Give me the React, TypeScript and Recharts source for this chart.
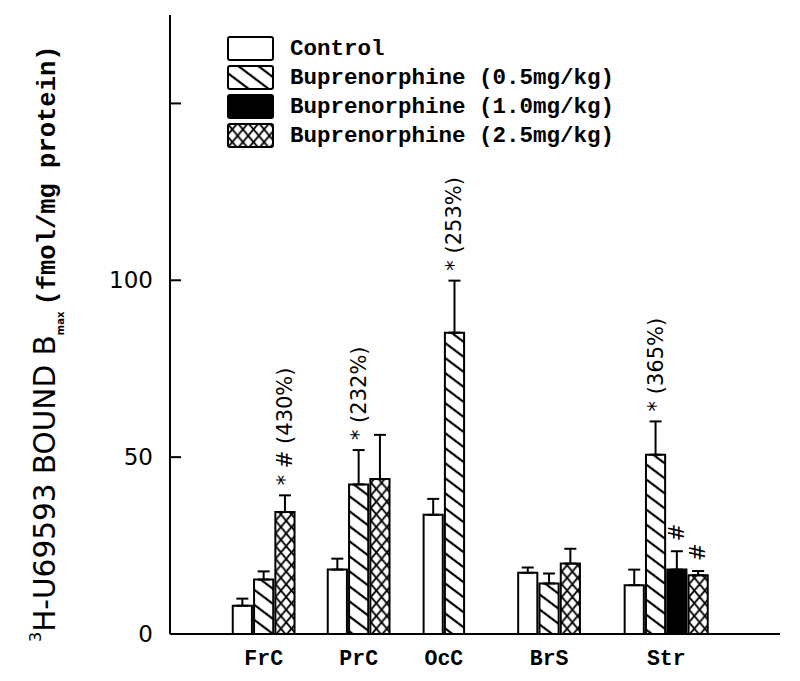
import React from "react";
import { BarChart, Bar, XAxis, YAxis, Cell, ErrorBar, LabelList, Legend } from "recharts";

const categories = ["FrC", "PrC", "OcC", "BrS", "Str"];
const seriesNames = [
  "Control",
  "Buprenorphine (0.5mg/kg)",
  "Buprenorphine (1.0mg/kg)",
  "Buprenorphine (2.5mg/kg)",
];
const control = [8.0, 18.2, 33.7, 17.3, 13.8];
const bup05 = [15.4, 42.3, 85.2, 14.3, 50.7];
const bup10 = [null, null, null, null, 18.2];
const bup25 = [34.5, 43.8, null, 19.9, 16.6];
const controlErr = [2.0, 3.1, 4.5, 1.5, 4.4];
const bup05Err = [2.3, 9.7, 14.7, 2.8, 9.4];
const bup10Err = [null, null, null, null, 5.2];
const bup25Err = [4.7, 12.5, null, 4.2, 1.2];
const controlNotes = [null, null, null, null, null];
const bup05Notes = [null, "* (232%)", "* (253%)", null, "* (365%)"];
const bup10Notes = [null, null, null, null, "#"];
const bup25Notes = ["* # (430%)", null, null, null, "#"];
const yTicks = [0, 50, 100, 150];

// spacing (in bar widths) before each group, and after the last one
const GAP_BEFORE = [2.9, 1.46, 1.5, 2.44, 2.0];
const GAP_AFTER = 3.34;

const values = [control, bup05, bup10, bup25];
const errs = [controlErr, bup05Err, bup10Err, bup25Err];
const notes = [controlNotes, bup05Notes, bup10Notes, bup25Notes];
const FILLS = ["#fff", "url(#hatch05)", "#000", "url(#cross25)"];

type Row = { x: number; value: number; err: [number, number]; series: number; note?: string };
const rows: Row[] = [];
const groupCenters: number[] = [];
let cursor = 0;
categories.forEach((_, i) => {
  cursor += GAP_BEFORE[i];
  const start = cursor;
  values.forEach((vals, s) => {
    const v = vals[i];
    if (v == null) return;
    rows.push({ x: cursor + 0.5, value: v, err: [0, errs[s][i] ?? 0], series: s, note: notes[s][i] ?? undefined });
    cursor += 1;
  });
  groupCenters.push((start + cursor) / 2);
});
const X_MAX = cursor + GAP_AFTER;

const SANS = "DejaVu Sans";
const MONO = "Liberation Mono";

const Patterns = ({ prefix }: { prefix: string }) => (
  <defs>
    <pattern id={`${prefix}hatch05`} patternUnits="userSpaceOnUse" width={12} height={12} patternTransform="rotate(37)">
      <rect width={12} height={12} fill="#fff" />
      <line x1={0} y1={6} x2={12} y2={6} stroke="#000" strokeWidth={2.2} />
    </pattern>
    <pattern id={`${prefix}cross25`} patternUnits="userSpaceOnUse" width={10.6} height={12.7}>
      <rect width={10.6} height={12.7} fill="#fff" />
      <line x1={0} y1={0} x2={10.6} y2={12.7} stroke="#000" strokeWidth={1.8} />
      <line x1={10.6} y1={0} x2={0} y2={12.7} stroke="#000" strokeWidth={1.8} />
    </pattern>
  </defs>
);

const YTick = (props: any) => {
  const { x, y, payload } = props;
  return (
    <g>
      <line x1={x + 17} x2={x + 28} y1={y} y2={y} stroke="#000" strokeWidth={2} />
      {payload.value !== 150 && (
        <text x={x} y={y} dy={8} textAnchor="end" fontFamily={SANS} fontSize={23} fill="#000">
          {payload.value}
        </text>
      )}
    </g>
  );
};

const XTick = (props: any) => {
  const { x, y, payload } = props;
  const i = groupCenters.findIndex((c) => Math.abs(c - payload.value) < 1e-6);
  return (
    <text x={x} y={y} dy={31} textAnchor="middle" fontFamily={MONO} fontWeight="bold" fontSize={21.5} fill="#000">
      {categories[i]}
    </text>
  );
};

const YLabel = (props: any) => {
  const vb = props.viewBox || { x: 0, y: 15, width: 170, height: 619 };
  const tx = vb.x + 55;
  const ty = vb.y + vb.height + 8;
  return (
    <text transform={`translate(${tx}, ${ty}) rotate(-90)`} fill="#000" textAnchor="start">
      <tspan fontFamily={SANS} fontSize={16} dy={-14}>3</tspan>
      <tspan fontFamily={SANS} fontSize={29.5} dy={14}>H-U69593 BOUND B</tspan>
      <tspan fontFamily={SANS} fontWeight="bold" fontSize={10} dy={9}>max</tspan>
      <tspan fontFamily={MONO} fontWeight="bold" fontSize={25.5} dy={-9} dx={6}>(fmol/mg protein)</tspan>
    </text>
  );
};

const NoteLabel = (props: any) => {
  const { x, y, width, height, index } = props;
  const row = rows[index];
  if (!row || !row.note) return null;
  const capY = y - (height * row.err[1]) / row.value;
  const cx = x + width / 2;
  const cy = capY - 10;
  return (
    <text
      x={cx}
      y={cy}
      transform={`rotate(-90, ${cx}, ${cy})`}
      textAnchor="start"
      dominantBaseline="central"
      fontFamily={SANS}
      fontSize={21}
      fill="#000"
    >
      {row.note}
    </text>
  );
};

const LegendBox = () => (
  <svg width={420} height={120}>
    <Patterns prefix="lg-" />
    {seriesNames.map((name, s) => (
      <g key={name} transform={`translate(0, ${s * 29})`}>
        <rect
          x={1}
          y={1}
          width={45}
          height={23}
          rx={2}
          fill={FILLS[s].replace("url(#", "url(#lg-")}
          stroke="#000"
          strokeWidth={2}
        />
        <text x={63} y={19} fontFamily={MONO} fontWeight="bold" fontSize={22.5} fill="#000">
          {name}
        </text>
      </g>
    ))}
  </svg>
);

export default function App() {
  return (
    <div style={{ position: "absolute", left: 0, top: 0, background: "#fff" }}>
      <BarChart width={800} height={681} data={rows} margin={{ top: 15, right: 20, bottom: 0, left: 0 }}>
        <Patterns prefix="" />
        <XAxis
          dataKey="x"
          type="number"
          domain={[0, X_MAX]}
          ticks={groupCenters}
          tick={<XTick />}
          tickLine={false}
          tickSize={0}
          tickMargin={0}
          height={47}
          axisLine={{ stroke: "#000", strokeWidth: 2 }}
          interval={0}
        />
        <XAxis
          xAxisId="top"
          orientation="top"
          type="number"
          domain={[0, X_MAX]}
          tick={false}
          tickLine={false}
          height={0}
          axisLine={{ stroke: "#000", strokeWidth: 2 }}
        />
        <YAxis
          type="number"
          domain={[0, 175]}
          ticks={yTicks}
          tick={<YTick />}
          tickLine={false}
          tickSize={0}
          tickMargin={17}
          width={170}
          axisLine={{ stroke: "#000", strokeWidth: 2 }}
          interval={0}
          label={<YLabel />}
        />
        <YAxis
          yAxisId="right"
          orientation="right"
          type="number"
          domain={[0, 175]}
          tick={false}
          tickLine={false}
          width={0}
          axisLine={{ stroke: "#000", strokeWidth: 2 }}
        />
        <Legend
          layout="vertical"
          align="center"
          verticalAlign="middle"
          content={<LegendBox />}
          wrapperStyle={{ left: 227, top: 36, width: 420 }}
        />
        <Bar dataKey="value" barSize={21.3} stroke="#000" strokeWidth={2} isAnimationActive={false}>
          {rows.map((r, i) => (
            <Cell key={i} fill={FILLS[r.series]} />
          ))}
          <ErrorBar dataKey="err" width={6} stroke="#000" strokeWidth={2} direction="y" />
          <LabelList dataKey="note" content={<NoteLabel />} />
        </Bar>
      </BarChart>
    </div>
  );
}
